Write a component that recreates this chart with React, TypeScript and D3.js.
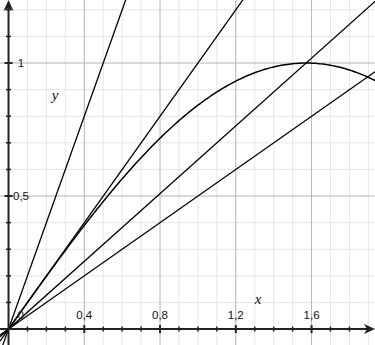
import React from "react";
import * as d3 from "d3";

const W = 375;
const H = 345;
const xDomain = [-0.045, 1.935];
const yDomain = [-0.06, 1.237];
const slopes = [2, 1, 2 / Math.PI, 0.5];
const xMajorTicks = [0.4, 0.8, 1.2, 1.6];
const xTickLabels = ["0,4", "0,8", "1,2", "1,6"];
const yMajorTicks = [0.5, 1];
const yTickLabels = ["0,5", "1"];
const minorStep = 0.1;

export default function App() {
  const x = d3.scaleLinear().domain(xDomain).range([0, W]);
  const y = d3.scaleLinear().domain(yDomain).range([H, 0]);
  const xMinor = d3.range(-0.0, 1.95, minorStep).map((v) => +v.toFixed(2));
  const yMinor = d3.range(0, 1.25, minorStep).map((v) => +v.toFixed(2));
  const isMajorX = (v: number) => xMajorTicks.some((m) => Math.abs(m - v) < 1e-6);
  const isMajorY = (v: number) => yMajorTicks.some((m) => Math.abs(m - v) < 1e-6);

  const sinPts = d3.range(0, 1.95, 0.01).map((t) => [t, Math.sin(t)] as [number, number]);
  const curve = d3
    .line<[number, number]>()
    .x((d) => x(d[0]))
    .y((d) => y(d[1]))(sinPts);

  const x0 = x(0);
  const y0 = y(0);
  const font = "Helvetica, Arial, 'Liberation Sans', sans-serif";

  return (
    <svg
      width={W}
      height={H}
      style={{ position: "fixed", left: 0, top: 0, background: "#fff" }}
    >
      {/* minor grid */}
      {xMinor.filter((v) => v > 0 && !isMajorX(v)).map((v) => (
        <line key={"gx" + v} x1={x(v)} x2={x(v)} y1={0} y2={H} stroke="#e6e6e6" strokeWidth={1} />
      ))}
      {yMinor.filter((v) => v > 0 && !isMajorY(v)).map((v) => (
        <line key={"gy" + v} x1={0} x2={W} y1={y(v)} y2={y(v)} stroke="#e6e6e6" strokeWidth={1} />
      ))}
      {/* major grid */}
      {xMajorTicks.map((v) => (
        <line key={"Gx" + v} x1={x(v)} x2={x(v)} y1={0} y2={H} stroke="#b4b4b4" strokeWidth={1} />
      ))}
      {yMajorTicks.map((v) => (
        <line key={"Gy" + v} x1={0} x2={W} y1={y(v)} y2={y(v)} stroke="#b4b4b4" strokeWidth={1} />
      ))}

      {/* lines through origin */}
      {slopes.map((k, i) => (
        <line
          key={"l" + i}
          x1={x(xDomain[0])}
          y1={y(k * xDomain[0])}
          x2={x(xDomain[1])}
          y2={y(k * xDomain[1])}
          stroke="#000"
          strokeWidth={1.3}
        />
      ))}
      <path d={curve || ""} fill="none" stroke="#000" strokeWidth={1.5} />

      {/* axes */}
      <line x1={0} x2={W - 4} y1={y0} y2={y0} stroke="#222" strokeWidth={2} />
      <line x1={x0} x2={x0} y1={H} y2={4} stroke="#222" strokeWidth={2} />
      <path d={`M${W},${y0} L${W - 11},${y0 - 5} L${W - 8},${y0} L${W - 11},${y0 + 5} Z`} fill="#222" />
      <path d={`M${x0},0 L${x0 - 5},11 L${x0},8 L${x0 + 5},11 Z`} fill="#222" />

      {/* ticks */}
      {xMinor.filter((v) => v > 0).map((v) => (
        <line
          key={"tx" + v}
          x1={x(v)}
          x2={x(v)}
          y1={y0 - (isMajorX(v) ? 4 : 2.5)}
          y2={y0 + (isMajorX(v) ? 4 : 2.5)}
          stroke="#222"
          strokeWidth={isMajorX(v) ? 2 : 1.5}
        />
      ))}
      {yMinor.filter((v) => v > 0).map((v) => (
        <line
          key={"ty" + v}
          x1={x0 - (isMajorY(v) ? 4 : 2.5)}
          x2={x0 + (isMajorY(v) ? 4 : 2.5)}
          y1={y(v)}
          y2={y(v)}
          stroke="#222"
          strokeWidth={isMajorY(v) ? 2 : 1.5}
        />
      ))}

      {/* tick labels */}
      {xMajorTicks.map((v, i) => (
        <text key={"lx" + v} x={x(v)} y={y0 - 10} textAnchor="middle" fontFamily={font} fontSize={11.5} fill="#111">
          {xTickLabels[i]}
        </text>
      ))}
      {yMajorTicks.map((v, i) => (
        <text key={"ly" + v} x={x0 + 12.5} y={y(v) + 4} textAnchor="middle" fontFamily={font} fontSize={11.5} fill="#111">
          {yTickLabels[i]}
        </text>
      ))}
      <text x={x0 + 9} y={y0 - 10} fontFamily={font} fontSize={11.5} fill="#111">0</text>
      <text x={x(0.228)} y={y(0.86)} fontFamily="'Liberation Serif', 'DejaVu Serif', serif" fontStyle="italic" fontSize={15} fill="#111">y</text>
      <text x={x(1.3)} y={y(0.095)} fontFamily="'Liberation Serif', 'DejaVu Serif', serif" fontStyle="italic" fontSize={15} fill="#111">x</text>
    </svg>
  );
}
